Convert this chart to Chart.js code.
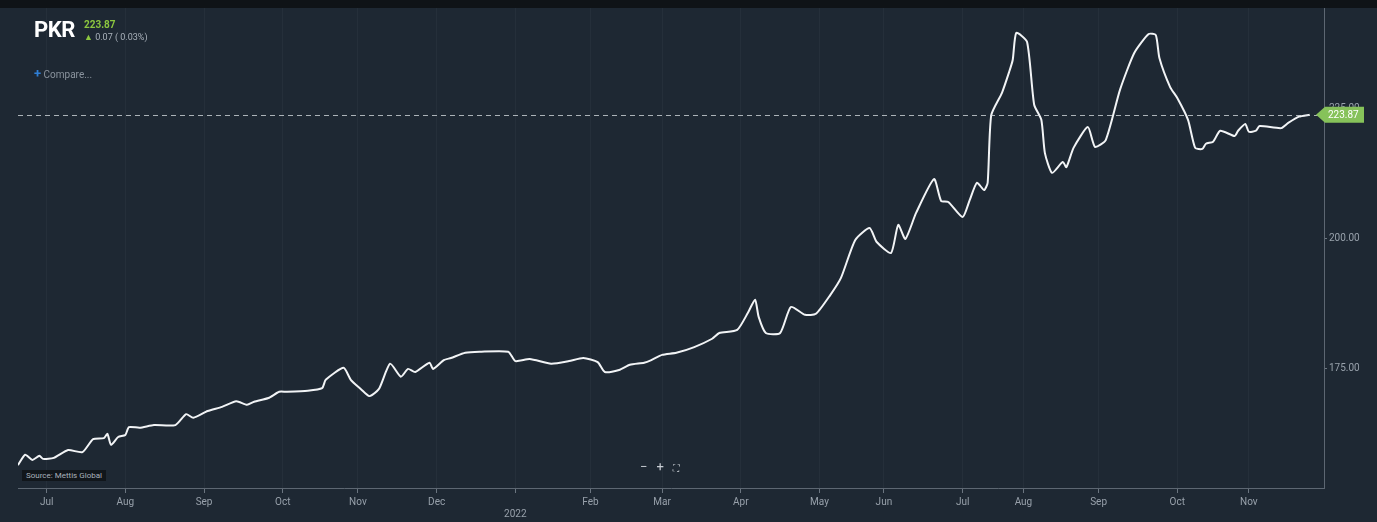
<!DOCTYPE html>
<html>
<head>
<meta charset="utf-8">
<script src="https://cdn.jsdelivr.net/npm/chart.js@4.4.0/dist/chart.umd.min.js"></script>
<style>
  html, body { margin: 0; padding: 0; background: #1e2833; }
  #wrap { position: relative; width: 1377px; height: 522px; overflow: hidden; }
  #myChart { position: absolute; left: 0; top: 0; }
  .txt { position: absolute; font-family: 'Liberation Sans Narrow', Roboto, sans-serif; white-space: nowrap; }
</style>
</head>
<body>
<div id="wrap">
  <canvas id="myChart" width="1377" height="522"></canvas>
  <div class="txt" style="left:34px;top:17px;font-family:Roboto,sans-serif;font-weight:bold;font-size:22px;color:#fff;letter-spacing:-0.5px;">PKR</div>
  <div class="txt" style="left:84px;top:19px;font-size:10px;font-weight:bold;color:#8cc63f;">223.87</div>
  <div class="txt" style="left:84px;top:32px;font-size:9px;color:#aab2bb;"><span style="color:#8cc63f;">&#9650;</span> 0.07 ( 0.03%)</div>
  <div class="txt" style="left:34px;top:66px;font-size:10px;color:#8a939d;"><span style="color:#2f7fd6;font-weight:bold;font-size:13px;">+</span> Compare...</div>
  <div class="txt" style="left:22px;top:470px;font-size:8px;color:#aab2bb;background:#11161b;padding:1px 4px;">Source: Mettis Global</div>
  <div class="txt" style="left:640px;top:459px;font-size:13px;color:#c9ced4;font-family:Roboto,sans-serif;letter-spacing:9px;">&minus;+<span style="font-size:9px;letter-spacing:0;">&#9974;</span></div>
</div>
<script>
// trading day index (from start of view) and PKR per USD
const days = [0, 2, 4, 6, 7, 10, 14, 18, 21, 24, 25, 26, 28, 30, 31, 34, 38, 44, 47, 49,
  53, 57, 61, 64, 66, 70, 73, 75, 81, 85, 86, 91, 93, 96, 98, 99, 101, 104, 107, 109,
  111, 115, 116, 119, 121, 125, 129, 137, 139, 143, 149, 154, 158, 162, 164, 168, 171, 175, 177, 180,
  184, 189, 194, 196, 201, 204, 206, 207, 209, 213, 216, 220, 223, 227, 230, 234, 238, 240, 244, 246,
  248, 251, 256, 258, 260, 264, 266, 268, 270, 271, 272, 275, 277, 278, 279, 282, 284, 286, 287, 289,
  292, 293, 295, 299, 301, 304, 308, 312, 316, 318, 319, 322, 324, 327, 329, 331, 332, 334, 336, 340,
  341, 343, 344, 346, 347, 353, 355, 358, 361];
const rates = [156.5, 158.5, 157.5, 158.3, 157.7, 157.9, 159.4, 159.0, 161.5, 161.7, 162.5, 160.4, 161.9, 162.3, 163.8, 163.7, 164.2, 164.2, 166.3, 165.6,
  166.9, 167.7, 168.8, 168.1, 168.7, 169.4, 170.6, 170.6, 170.8, 171.3, 172.9, 175.2, 172.9, 171.0, 169.8, 170.0, 171.3, 176.0, 173.5, 175.0,
  174.4, 176.2, 175.0, 176.7, 177.1, 178.1, 178.3, 178.3, 176.5, 176.9, 176.0, 176.5, 177.1, 176.3, 174.4, 174.8, 175.8, 176.2, 176.7, 177.7,
  178.1, 179.2, 180.8, 181.9, 182.5, 185.8, 188.3, 185.0, 181.9, 181.9, 186.9, 185.4, 185.6, 189.2, 192.5, 199.8, 202.1, 199.4, 197.3, 202.7,
  200.0, 205.0, 211.5, 207.3, 207.1, 204.2, 207.5, 210.8, 209.4, 210.8, 223.8, 228.1, 232.1, 234.4, 239.6, 237.9, 225.8, 222.9, 216.5, 212.7,
  214.8, 213.8, 217.5, 221.5, 217.7, 219.0, 228.7, 235.8, 239.4, 239.2, 234.8, 229.2, 227.1, 222.9, 217.5, 217.3, 218.3, 218.7, 220.8, 219.8,
  220.8, 222.1, 220.6, 220.8, 221.7, 221.3, 222.3, 223.5, 223.87];
// month ticks on the trading-day axis
const monthDays = [8, 30, 52, 74, 95, 117, 139, 160, 180, 202, 224, 242, 264, 281, 302, 324, 344];
const monthLabels = ["Jul", "Aug", "Sep", "Oct", "Nov", "Dec", ["", "2022"], "Feb", "Mar", "Apr", "May", "Jun", "Jul", "Aug", "Sep", "Oct", "Nov"];
const yTicks = [175, 200, 225];
const lastValue = 223.87;

const tickFont = { family: "'Liberation Sans Narrow', Roboto, sans-serif", size: 10 };

const extras = {
  id: "extras",
  beforeDraw(c) {
    const ctx = c.ctx;
    ctx.save();
    ctx.fillStyle = "#0f1317";
    ctx.fillRect(0, 0, c.width, 8);
    ctx.restore();
  },
  afterDraw(c) {
    const ctx = c.ctx;
    const y = c.scales.y.getPixelForValue(lastValue);
    const a = c.chartArea;
    ctx.save();
    ctx.strokeStyle = "rgba(220,225,230,0.75)";
    ctx.lineWidth = 1;
    ctx.setLineDash([5, 4]);
    ctx.beginPath();
    ctx.moveTo(a.left, Math.round(y) + 0.5);
    ctx.lineTo(a.right, Math.round(y) + 0.5);
    ctx.stroke();
    ctx.setLineDash([]);
    // price badge
    const x0 = a.right - 8;
    ctx.fillStyle = "#86c25a";
    ctx.beginPath();
    ctx.moveTo(x0, y);
    ctx.lineTo(x0 + 9, y - 8);
    ctx.lineTo(x0 + 48, y - 8);
    ctx.lineTo(x0 + 48, y + 8);
    ctx.lineTo(x0 + 9, y + 8);
    ctx.closePath();
    ctx.fill();
    ctx.fillStyle = "#ffffff";
    ctx.font = "10px 'Liberation Sans Narrow', Roboto, sans-serif";
    ctx.textBaseline = "middle";
    ctx.fillText(lastValue.toFixed(2), x0 + 12, y + 1);
    ctx.restore();
  }
};

const myChart = document.getElementById("myChart");
const chart = new Chart(myChart, {
  type: "line",
  data: {
    datasets: [{
      data: days.map((d, i) => ({ x: d, y: rates[i] })),
      borderColor: "#f2f4f6",
      borderWidth: 2,
      pointRadius: 0,
      tension: 0.2
    }]
  },
  options: {
    responsive: false,
    animation: false,
    layout: { padding: { left: 18, top: 8, right: 0, bottom: 0 } },
    plugins: { legend: { display: false }, tooltip: { enabled: false } },
    scales: {
      x: {
        type: "linear",
        min: 0,
        max: 365,
        afterBuildTicks: (s) => { s.ticks = monthDays.map((v) => ({ value: v })); },
        afterFit: (s) => { s.height = 34; },
        ticks: {
          color: "#98a1ab",
          font: tickFont,
          padding: 3,
          maxRotation: 0,
          autoSkip: false,
          callback: (v) => monthLabels[monthDays.indexOf(v)]
        },
        grid: {
          color: "rgba(255,255,255,0.035)",
          tickColor: "#6b7580",
          tickLength: 5
        },
        border: { display: true, color: "#5d6772", width: 1 }
      },
      y: {
        position: "right",
        min: 152.1,
        max: 244.4,
        afterBuildTicks: (s) => { s.ticks = yTicks.map((v) => ({ value: v })); },
        afterFit: (s) => { s.width = 53; },
        ticks: {
          color: "#98a1ab",
          font: tickFont,
          padding: 2,
          callback: (v) => v.toFixed(2)
        },
        grid: {
          drawOnChartArea: false,
          tickColor: "#6b7580",
          tickLength: 3
        },
        border: { display: true, color: "#5d6772", width: 1 }
      }
    }
  },
  plugins: [extras]
});
</script>
</body>
</html>
